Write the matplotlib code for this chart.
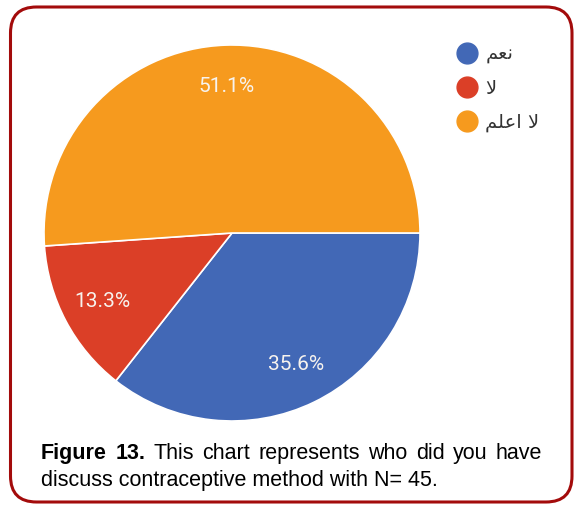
import matplotlib.pyplot as plt
from matplotlib.lines import Line2D
from matplotlib.patches import FancyBboxPatch

# ----------------------------
# Data
# ----------------------------
# Arabic labels written in presentation forms (visual order) so that
# matplotlib shows them joined: "نعم", "لا", "لا اعلم"
labels = ['\uFEE2\uFECC\uFEE7', '\uFEFB', '\uFEE2\uFEE0\uFECB\uFE8D \uFEFB']
shares = [35.6, 13.3, 51.1]
colors = ['#4268b6', '#db3f27', '#f69a1e']

caption_bold = 'Figure 13.'
caption_line1 = 'This chart represents who did you have'
caption_line2 = 'discuss contraceptive method with N= 45.'

# ----------------------------
# Figure
# ----------------------------
W, H = 579, 514
fig = plt.figure(figsize=(W / 100, H / 100), dpi=100)
fig.patch.set_facecolor('white')

# rounded dark red frame
frame = FancyBboxPatch((0.105, 0.12), 5.615, 4.95,
                       boxstyle='round,pad=0,rounding_size=0.26',
                       transform=fig.dpi_scale_trans,
                       facecolor='none', edgecolor='#a30b0b', linewidth=2.2)
fig.patches.append(frame)

# pie: centre (232, 233) px, radius 188 px
cx, cy, r = 232, 233, 188
ax = fig.add_axes([(cx - r) / W, (H - cy - r) / H, 2 * r / W, 2 * r / H])
wedges, _, autotexts = ax.pie(shares, colors=colors, startangle=0,
                              counterclock=False, autopct='%1.1f%%',
                              pctdistance=0.78,
                              wedgeprops=dict(edgecolor='white', linewidth=1.2),
                              textprops=dict(color='#f7f3ee', fontsize=15,
                                             family='Roboto'))
ax.set_xlim(-1, 1)
ax.set_ylim(-1, 1)
ax.set_aspect('auto')
ax.axis('off')

# legend
handles = [Line2D([], [], marker='o', ls='', ms=15, mfc=c, mec=c) for c in colors]
fig.legend(handles, labels, loc='upper left', bbox_to_anchor=(457 / W, 1 - 45 / H),
           frameon=False, prop=dict(family='DejaVu Sans', size=14),
           labelcolor='#333333', handlelength=1.0, handletextpad=0.45,
           labelspacing=0.75, borderpad=0, borderaxespad=0)

# caption, first line justified
fig.canvas.draw()
renderer = fig.canvas.get_renderer()
fs = 15.5
x_left, x_right = 41, 542
y1, y2 = 459, 486

words = [(w, 'bold') for w in caption_bold.split()] + [(w, 'normal') for w in caption_line1.split()]
items = []
total = 0
for w, weight in words:
    t = fig.text(0, 1 - y1 / H, w, fontsize=fs, family='Liberation Sans',
                 fontweight=weight, color='black', va='baseline', ha='left')
    bw = t.get_window_extent(renderer).width
    items.append((t, bw))
    total += bw
gap = (x_right - x_left - total) / (len(items) - 1)
x = x_left
for t, bw in items:
    t.set_x(x / W)
    x += bw + gap

fig.text(x_left / W, 1 - y2 / H, caption_line2, fontsize=fs, family='Liberation Sans',
         color='black', va='baseline', ha='left')

fig.savefig('out.png', dpi=100)
